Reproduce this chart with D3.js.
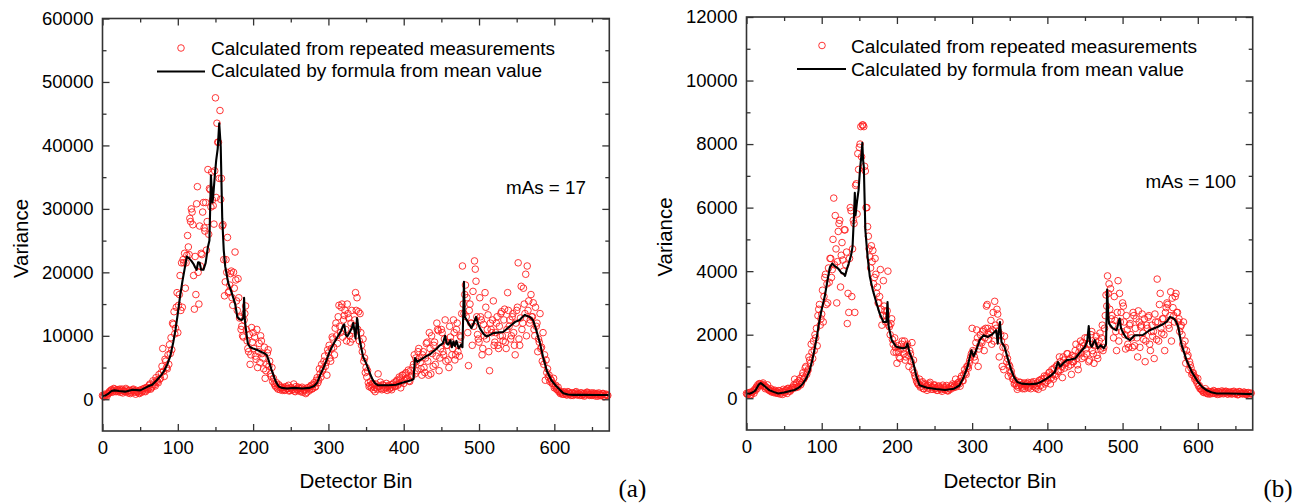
<!DOCTYPE html>
<html>
<head>
<meta charset="utf-8">
<script src="https://cdn.jsdelivr.net/npm/d3@7"></script>
<style>
  html, body { margin: 0; padding: 0; background: #fff; }
  svg { display: block; }
  text { font-family: "Liberation Sans", Arial, sans-serif; fill: #000; }
</style>
</head>
<body>
<svg id="chart" width="1310" height="504"></svg>
<script>
// ---------------- DATA ----------------
const legendLabels = ["Calculated from repeated measurements", "Calculated by formula from mean value"];
const xTicks = [0, 100, 200, 300, 400, 500, 600];
const xMinorTicks = [50, 150, 250, 350, 450, 550, 650];
const yTicksA = [0, 10000, 20000, 30000, 40000, 50000, 60000];
const yMinorTicksA = [5000, 15000, 25000, 35000, 45000, 55000];
const yTicksB = [0, 2000, 4000, 6000, 8000, 10000, 12000];
const yMinorTicksB = [1000, 3000, 5000, 7000, 9000, 11000];

// Scatter: detector bins (even bins and odd bins)
const scatterBinsEven = d3.range(0, 672, 2);
const scatterBinsOdd = d3.range(1, 672, 2);

// Panel (a), mAs = 17 — variance from repeated measurements (thousands), even bins
const scatterAEven = [
0.6,0.4,0.7,0.5,0.9,1.1,1.5,1.3,1.6,1.2,1.5,1.4,1.1,1.6,1.3,1.2,1.5,1.0,1.4,1.1,
1.5,1.3,0.8,1.2,1.0,1.4,1.1,1.6,1.3,1.8,1.5,2.2,1.6,2.0,2.6,2.1,3.0,2.6,3.2,4.2,
8.0,3.6,6.0,4.8,5.5,7.2,7.8,11.8,10.3,14.5,10.5,16.5,14.0,14.5,21.5,17.5,22.7,24.0,28.5,30.0,
27.5,14.2,16.5,33.5,15.0,21.0,22.8,31.0,26.5,23.5,36.2,33.2,30.3,31.4,27.6,47.5,43.5,40.5,45.5,34.8,
27.5,16.3,22.0,25.5,17.0,19.8,16.0,20.0,23.2,15.5,19.0,12.8,11.0,10.0,12.5,14.7,9.2,7.5,5.5,11.3,
10.5,9.8,6.3,5.0,8.8,10.0,7.2,4.8,3.3,5.5,7.8,6.0,3.6,2.8,2.5,2.0,1.8,2.3,1.5,1.9,
1.6,1.4,2.0,1.7,1.3,1.8,1.5,2.4,1.2,1.6,1.9,1.4,1.7,1.1,1.5,0.9,1.8,1.3,2.0,1.6,
2.3,1.9,3.0,2.6,4.8,3.5,4.5,6.0,5.2,3.8,7.3,6.5,8.0,9.5,7.0,12.0,8.8,14.8,10.5,15.0,
12.5,14.0,9.2,13.5,10.0,12.0,9.5,11.5,16.8,16.0,13.8,13.5,8.5,9.5,6.5,5.0,4.5,2.0,2.8,2.3,
1.5,1.2,1.8,4.0,2.1,1.7,2.3,1.6,1.9,1.4,2.2,1.8,1.5,2.4,2.0,2.8,2.2,3.5,1.8,3.8,
2.5,4.0,3.2,4.6,2.8,3.5,5.0,7.0,6.5,4.5,8.0,5.8,3.8,7.5,4.2,8.8,6.0,10.5,4.0,7.2,
8.5,5.5,12.0,10.8,6.5,11.0,7.5,9.5,6.0,8.5,5.0,9.8,7.0,12.5,6.2,11.0,7.5,6.8,9.8,21.0,
13.5,18.0,16.0,5.3,15.0,12.0,17.0,21.8,18.6,10.2,9.0,13.0,7.0,11.8,16.8,9.5,13.3,4.5,11.0,12.5,
8.5,10.5,13.0,8.0,10.0,13.8,9.2,14.2,8.0,16.8,11.5,9.5,13.0,10.5,7.0,14.0,21.5,8.5,17.8,12.0,
15.0,19.7,21.0,15.5,12.5,13.0,15.2,10.0,11.5,7.5,9.0,8.0,6.0,5.5,3.0,4.2,3.5,2.8,3.0,2.5,
1.8,2.2,1.5,1.2,0.9,1.1,0.8,1.0,0.7,1.2,0.9,0.6,1.0,0.8,1.1,0.7,0.9,0.6,1.0,0.8,
0.5,0.9,1.1,0.7,0.8,0.6,1.0,0.7,0.9,0.5,0.8,0.6,0.9,0.4,0.7,0.6
];
// Panel (a), odd bins (thousands)
const scatterAOdd = [
0.5,0.8,0.6,0.9,1.2,1.4,1.1,1.7,1.3,1.5,1.2,1.6,1.4,1.0,1.3,1.7,1.2,1.4,0.9,1.3,1.6,1.1,1.4,1.2,0.9,1.5,1.3,1.7,1.2,1.9,
1.7,2.4,1.8,2.9,2.3,3.4,2.8,3.9,3.3,5.2,4.4,6.3,5.0,7.0,8.6,9.7,12.0,13.8,11.2,16.8,14.8,19.5,21.5,22.0,23.0,21.5,25.8,22.8,28.0,29.5,
19.5,22.5,30.8,20.0,27.3,23.0,29.5,27.0,31.0,28.0,26.0,33.0,35.8,30.5,36.0,31.8,40.5,34.8,31.5,27.3,22.0,18.5,20.0,16.8,18.0,20.2,14.8,17.5,18.8,14.0,
16.0,13.0,11.5,9.8,13.5,11.0,8.0,10.2,7.0,9.0,8.0,6.8,11.0,7.5,5.8,9.2,6.5,8.2,4.5,7.3,5.2,4.0,5.0,3.3,2.2,2.6,1.6,2.1,1.8,1.4,
1.9,1.5,1.7,2.2,1.4,1.8,1.6,1.3,2.0,1.5,1.7,1.2,1.9,1.4,1.6,1.1,1.8,1.5,2.2,1.7,2.6,2.0,3.4,3.0,4.0,5.5,4.8,6.8,5.8,7.8,
8.5,6.0,9.8,8.2,11.2,10.0,13.0,11.5,14.5,9.8,13.2,11.0,15.0,12.8,9.0,14.0,10.8,12.5,14.0,11.0,9.2,10.5,7.5,6.0,4.2,3.5,2.6,2.2,1.8,2.5,
1.9,2.4,1.6,2.0,2.7,1.5,2.2,1.8,2.5,2.0,1.6,2.3,1.9,2.6,2.1,3.0,2.4,3.2,2.7,3.8,3.0,4.2,3.4,2.9,4.5,3.8,5.5,4.0,6.0,7.5,
6.5,4.8,7.0,5.0,6.5,9.0,3.8,8.0,10.0,5.2,9.0,6.8,11.0,4.5,8.0,10.5,7.0,12.5,8.5,6.2,11.5,9.0,8.0,10.5,7.0,12.0,8.5,10.0,13.5,15.0,
16.5,13.0,10.5,14.0,12.0,8.5,11.5,20.5,13.0,9.5,16.0,12.5,8.0,10.0,14.5,11.0,7.5,12.0,10.5,15.5,9.0,12.0,8.5,11.5,13.5,10.0,12.5,9.0,11.0,14.0,
12.5,10.0,13.5,8.5,12.0,14.5,9.5,12.8,11.0,17.5,13.5,10.0,14.0,12.0,16.5,13.0,11.0,14.5,12.0,9.5,13.5,8.2,10.5,7.0,6.2,4.8,3.8,3.2,2.5,3.3,
2.0,1.6,1.9,1.3,1.0,0.8,1.2,0.9,0.7,1.1,0.8,1.0,0.6,0.9,1.2,0.7,0.8,1.0,0.6,0.9,0.7,1.1,0.8,0.6,1.0,0.7,0.9,0.5,0.8,1.0,0.6,0.7,0.9,0.5,0.8,0.6
];

// Panel (a) — variance by formula from mean value (bin, thousands)
const lineBinsA = [0,4,8,12,16,22,30,40,50,60,66,72,78,82,86,90,94,97,100,103,106,109,112,115,118,121,123,125,127,129,131,134,137,140,142,144,146,147,149,151,153,155,157,159,161,163,167,171,176,179,182,185,187,188,189,191,193,196,200,205,210,214,218,221,224,227,230,234,238,245,255,265,275,281,285,289,293,297,302,305,309,313,317,319,321,323,325,328,331,333,335,336,338,339,341,343,346,350,355,359,362,366,372,380,390,398,404,410,413,415,418,422,426,430,435,440,444,448,452,455,457,459,462,464,466,468,470,473,476,478,480,481,483,486,490,493,496,499,502,506,510,514,518,524,532,538,543,548,554,558,561,564,567,570,572,576,581,585,590,596,603,608,612,618,625,640,655,672];
const lineValsA = [0.5,0.6,0.9,1.3,1.4,1.3,1.2,1.5,1.4,2.0,2.3,3.0,3.8,4.5,5.5,6.8,9.0,11.0,13.5,16.2,18.5,20.5,22.5,22.2,21.8,21.3,20.8,20.4,21.6,21.5,20.4,20.4,21.5,24.0,25.0,35.3,31.0,32.0,35.0,37.7,39.5,43.5,39.8,28.5,23.5,20.9,18.3,17.0,15.1,13.0,12.6,12.5,12.8,16.0,12.5,10.5,8.8,8.2,8.0,7.8,7.5,7.3,7.0,6.0,4.8,3.8,2.8,2.0,1.8,1.7,1.8,1.7,1.8,2.1,2.6,3.8,4.8,6.0,7.6,8.3,9.2,10.0,10.8,11.5,11.8,10.2,9.9,10.5,11.2,12.0,10.5,9.6,12.8,12.0,9.6,8.5,6.7,5.7,4.1,3.0,2.5,2.2,2.2,2.2,2.3,2.6,2.8,3.0,3.2,6.5,5.9,6.2,6.5,6.8,7.1,7.6,8.0,8.5,8.8,10.0,8.8,8.6,9.3,8.2,9.1,8.4,9.2,8.0,8.6,8.2,18.5,13.0,12.6,12.0,11.2,12.0,13.0,11.8,11.0,10.3,9.9,10.1,10.4,10.5,10.6,11.2,11.7,12.2,12.5,13.0,13.3,13.1,13.0,12.7,12.4,10.9,8.8,6.7,4.5,3.0,2.0,1.4,0.95,0.75,0.7,0.7,0.68,0.68];

// Panel (b), mAs = 100 — variance from repeated measurements, even bins
const scatterBEven = [
150,120,180,100,200,160,250,300,380,450,420,480,400,350,420,250,300,220,180,250,
200,150,230,170,120,200,260,150,300,220,280,330,600,450,350,550,420,700,600,950,
750,900,1200,1700,1250,1500,1900,1650,2800,2300,2650,2400,3800,2950,3000,3650,4400,4050,6300,5750,
3000,5250,5600,4500,4350,5300,4200,2350,2700,6000,3200,5600,2700,6750,7700,7900,8550,8600,8550,7150,
6000,5100,4450,4800,4650,3800,3900,3500,3000,4050,2300,3700,2750,2600,4000,2250,2350,1850,1450,1600,
1100,1450,1250,1700,1550,1800,1300,1700,1000,1400,1750,1200,700,550,450,600,380,520,300,450,
250,400,500,350,280,420,330,250,380,300,220,350,270,400,230,300,380,450,350,600,
420,500,380,700,550,900,750,1000,1100,1300,2200,1450,1200,2150,1000,1650,1800,2100,1500,2200,
2950,1850,2100,1700,2700,3050,2200,2650,1300,2000,1000,900,1600,1150,700,1000,850,600,450,550,
280,400,500,350,450,300,420,500,380,300,450,520,350,400,280,550,600,350,700,500,
650,800,450,900,600,750,1000,850,1300,900,650,1200,1100,1400,1000,1250,750,1150,1300,1700,
1050,1450,1800,1250,1650,1900,1400,1700,1200,2000,1500,1100,1800,1350,1650,2050,1900,1500,2200,3250,
3850,3600,3450,2600,1900,2450,1500,3700,3300,2700,3000,2400,1550,2150,1600,2350,1900,2700,1650,2500,
1300,2400,2250,2650,1850,1150,2300,2550,1700,2100,1950,1250,2400,3750,1800,3300,2050,2500,1500,2850,
2950,2200,3350,3150,2600,3200,2700,2400,2100,2300,1700,1550,1100,1300,900,1050,750,800,600,550,
620,400,300,250,180,300,160,220,130,200,150,220,180,120,200,160,230,140,190,210,
130,170,200,150,220,140,180,120,200,160,140,190,120,170,90,150
];
// Panel (b), odd bins
const scatterBOdd = [
130,170,110,190,230,280,350,420,460,400,440,370,300,330,280,240,200,260,210,160,190,240,130,210,280,180,250,310,230,290,
350,420,330,500,380,620,480,800,650,1000,850,1300,1100,1450,1800,2000,2200,2600,2950,2500,3400,3200,3900,3600,4100,4400,3800,5000,4200,4700,
4300,5500,3500,4900,4000,5300,4600,3300,4400,5900,4700,5500,6700,5800,7200,8000,7600,8600,7300,6000,5400,4700,4100,4300,3600,4400,3300,3000,3200,2800,
2600,2900,2400,2750,2300,2000,2500,1700,1900,1450,1650,1300,1550,1800,1400,1200,1650,1350,1500,1150,900,800,650,500,430,350,480,300,420,380,
320,450,280,360,410,300,250,380,330,270,410,300,350,240,320,280,390,330,420,360,480,450,620,550,750,800,1000,950,1200,1400,
1500,1300,1750,1900,1550,2000,1750,2150,1900,2900,2200,2000,2450,2150,1800,2300,2800,2100,2400,1800,1600,1950,1400,1250,1050,800,700,600,480,400,
350,500,420,300,480,380,460,330,420,500,380,450,310,480,560,400,520,620,450,700,560,820,640,750,950,700,1050,850,1150,1000,
1300,950,1100,1400,1200,1050,1350,1150,1500,1250,900,1600,1400,1750,1300,1550,1900,1150,1700,2100,1400,1650,1950,1250,1800,1550,2300,1600,2600,2900,
3300,2800,2500,2300,3200,2100,2700,1800,2400,2100,2900,2000,2600,1700,2300,2000,1600,2600,2200,1900,2750,1600,2300,2050,2500,1800,2200,2600,1500,2300,
2100,2650,1850,2400,2950,2200,2500,2000,2700,3000,2300,2600,1800,2850,2400,3300,2700,2500,2250,2000,2400,1800,1500,1350,1150,950,800,700,650,480,
380,300,260,200,230,170,140,210,160,190,240,150,180,210,130,170,200,160,220,140,190,170,130,200,150,180,110,210,160,140,190,150,120,180,140,160
];

// Panel (b) — variance by formula from mean value
const lineBinsB = [0,4,8,12,16,19,22,25,30,36,42,50,58,64,70,75,80,84,88,91,94,97,100,104,108,111,114,118,122,126,129,131,133,136,139,141,143,144,145,147,149,151,153,154,155,156,158,161,164,168,173,177,182,186,187.5,189,193,199,208,212,214,217,220,222,226,230,240,252,264,276,283,288,294,299,302,306,310,315,321,326,330,332,334,335,337,339,343,348,352,356,360,366,376,386,392,399,405,410,414,417,421,426,431,437,442,446,450,453,455,457,459,463,467,471,475,478,479.5,481,482,487,492,496,498,501,505,510,516,527,536,547,555,559,563,568,571,574,578,585,592,600,606,612,618,625,640,655,672];
const lineValsB = [150,140,180,250,420,480,420,360,260,200,150,180,230,260,340,460,650,880,1250,1610,2000,2450,2800,3200,3750,4130,4240,4150,4080,3950,3920,3850,4030,4250,4500,4770,5800,6470,5760,6200,6550,7230,7700,8040,7500,7280,5300,4450,3820,3400,2980,2670,2400,2400,3030,2250,1830,1620,1570,1600,1720,1410,1250,1090,670,410,330,290,260,300,400,620,1000,1510,1320,1550,1830,1980,1930,2000,2090,2140,1720,2000,2400,1770,1620,1200,880,650,510,460,440,460,520,620,720,830,1140,990,1100,1200,1220,1250,1400,1510,1620,1800,2270,1700,1620,1830,1570,1670,1570,1700,3420,2600,2350,2200,2140,2510,2200,2040,1900,1830,1980,1990,2140,2250,2350,2420,2560,2510,2420,2250,1720,1200,830,520,350,250,190,150,150,140,130];

// ---------------- DRAWING ----------------
const svg = d3.select("#chart");
svg.append("rect").attr("width", 1310).attr("height", 504).attr("fill", "#fff");

const panels = [
  {
    left: 102.5, right: 609.3, top: 18.5, bottom: 431,
    yDomain: [-5000, 60000], yTicks: yTicksA, yMinor: yMinorTicksA,
    even: scatterAEven.map(v => v * 1000), odd: scatterAOdd.map(v => v * 1000),
    lineBins: lineBinsA, lineVals: lineValsA.map(v => v * 1000),
    legCircle: [181, 48], legLine: [157, 205, 71.5], legText: [211, 54.5, 344, 77, 331],
    mas: { text: "mAs = 17", x: 506, y: 194, w: 80 },
    yTitle: { x: 27.5, y: 238.5 }, xTitle: { x: 356, y: 488 },
    tag: { text: "(a)", x: 618.5, y: 497 }
  },
  {
    left: 746.5, right: 1252.7, top: 17, bottom: 430,
    yDomain: [-1000, 12000], yTicks: yTicksB, yMinor: yMinorTicksB,
    even: scatterBEven, odd: scatterBOdd,
    lineBins: lineBinsB, lineVals: lineValsB,
    legCircle: [822, 45.5], legLine: [797, 846, 69], legText: [851, 52.5, 346, 75.5, 333],
    mas: { text: "mAs = 100", x: 1145.5, y: 188, w: 90.5 },
    yTitle: { x: 671.5, y: 237 }, xTitle: { x: 1000, y: 488 },
    tag: { text: "(b)", x: 1263.5, y: 497 }
  }
];

const circleStroke = "#ff1f1f";

panels.forEach(p => {
  const x = d3.scaleLinear().domain([0, 673]).range([p.left, p.right]);
  const y = d3.scaleLinear().domain(p.yDomain).range([p.bottom, p.top]);
  const g = svg.append("g");

  // scatter
  const pts = scatterBinsEven.map((b, i) => [b, p.even[i]])
    .concat(scatterBinsOdd.map((b, i) => [b, p.odd[i]]))
    .filter(d => d[1] !== undefined);
  g.append("g").selectAll("circle").data(pts).join("circle")
    .attr("cx", d => x(d[0])).attr("cy", d => y(d[1])).attr("r", 3.3)
    .attr("fill", "none").attr("stroke", circleStroke).attr("stroke-width", 0.9);

  // line
  const lineData = p.lineBins.map((b, i) => [b, p.lineVals[i]]);
  g.append("path").datum(lineData)
    .attr("d", d3.line().x(d => x(d[0])).y(d => y(d[1])))
    .attr("fill", "none").attr("stroke", "#000").attr("stroke-width", 2.1)
    .attr("stroke-linejoin", "round");

  // axes
  const fmt = d3.format("d");
  const axStyle = sel => {
    sel.select(".domain").remove();
    sel.selectAll("line").attr("stroke", "#333").attr("stroke-width", 1.3);
    sel.selectAll("text").style("font-family", '"Liberation Sans", Arial, sans-serif')
      .style("font-size", "18.5px").attr("fill", "#000");
  };
  g.append("g").attr("transform", `translate(0,${p.bottom})`)
    .call(d3.axisBottom(x).tickValues(xTicks).tickFormat(fmt).tickSize(-7).tickPadding(10)).call(axStyle);
  g.append("g").attr("transform", `translate(0,${p.bottom})`)
    .call(d3.axisBottom(x).tickValues(xMinorTicks).tickFormat("").tickSize(-4)).call(axStyle);
  g.append("g").attr("transform", `translate(0,${p.top})`)
    .call(d3.axisTop(x).tickValues(xTicks).tickFormat("").tickSize(-7)).call(axStyle);
  g.append("g").attr("transform", `translate(0,${p.top})`)
    .call(d3.axisTop(x).tickValues(xMinorTicks).tickFormat("").tickSize(-4)).call(axStyle);
  g.append("g").attr("transform", `translate(${p.left},0)`)
    .call(d3.axisLeft(y).tickValues(p.yTicks).tickFormat(fmt).tickSize(-7).tickPadding(9)).call(axStyle);
  g.append("g").attr("transform", `translate(${p.left},0)`)
    .call(d3.axisLeft(y).tickValues(p.yMinor).tickFormat("").tickSize(-4)).call(axStyle);
  g.append("g").attr("transform", `translate(${p.right},0)`)
    .call(d3.axisRight(y).tickValues(p.yTicks).tickFormat("").tickSize(-7)).call(axStyle);
  g.append("g").attr("transform", `translate(${p.right},0)`)
    .call(d3.axisRight(y).tickValues(p.yMinor).tickFormat("").tickSize(-4)).call(axStyle);

  // frame
  g.append("rect").attr("x", p.left).attr("y", p.top)
    .attr("width", p.right - p.left).attr("height", p.bottom - p.top)
    .attr("fill", "none").attr("stroke", "#333").attr("stroke-width", 1.6);

  // legend
  g.append("circle").attr("cx", p.legCircle[0]).attr("cy", p.legCircle[1]).attr("r", 3.3)
    .attr("fill", "none").attr("stroke", circleStroke).attr("stroke-width", 0.9);
  g.append("line").attr("x1", p.legLine[0]).attr("x2", p.legLine[1])
    .attr("y1", p.legLine[2]).attr("y2", p.legLine[2])
    .attr("stroke", "#000").attr("stroke-width", 2.1);
  g.append("text").attr("x", p.legText[0]).attr("y", p.legText[1])
    .style("font-size", "18px").text(legendLabels[0])
    .attr("textLength", p.legText[2]).attr("lengthAdjust", "spacingAndGlyphs");
  g.append("text").attr("x", p.legText[0]).attr("y", p.legText[3])
    .style("font-size", "18px").text(legendLabels[1])
    .attr("textLength", p.legText[4]).attr("lengthAdjust", "spacingAndGlyphs");

  // mAs annotation
  g.append("text").attr("x", p.mas.x).attr("y", p.mas.y)
    .style("font-size", "18px").text(p.mas.text)
    .attr("textLength", p.mas.w).attr("lengthAdjust", "spacingAndGlyphs");

  // axis titles
  g.append("text").attr("transform", `translate(${p.yTitle.x},${p.yTitle.y}) rotate(-90)`)
    .attr("text-anchor", "middle").style("font-size", "19.5px").text("Variance")
    .attr("textLength", 79).attr("lengthAdjust", "spacingAndGlyphs");
  g.append("text").attr("x", p.xTitle.x).attr("y", p.xTitle.y)
    .attr("text-anchor", "middle").style("font-size", "19.5px").text("Detector Bin")
    .attr("textLength", 113).attr("lengthAdjust", "spacingAndGlyphs");

  // panel tag
  g.append("text").attr("x", p.tag.x).attr("y", p.tag.y)
    .style("font-family", '"Liberation Serif", "Times New Roman", serif')
    .style("font-size", "25px").text(p.tag.text);
});
</script>
</body>
</html>
